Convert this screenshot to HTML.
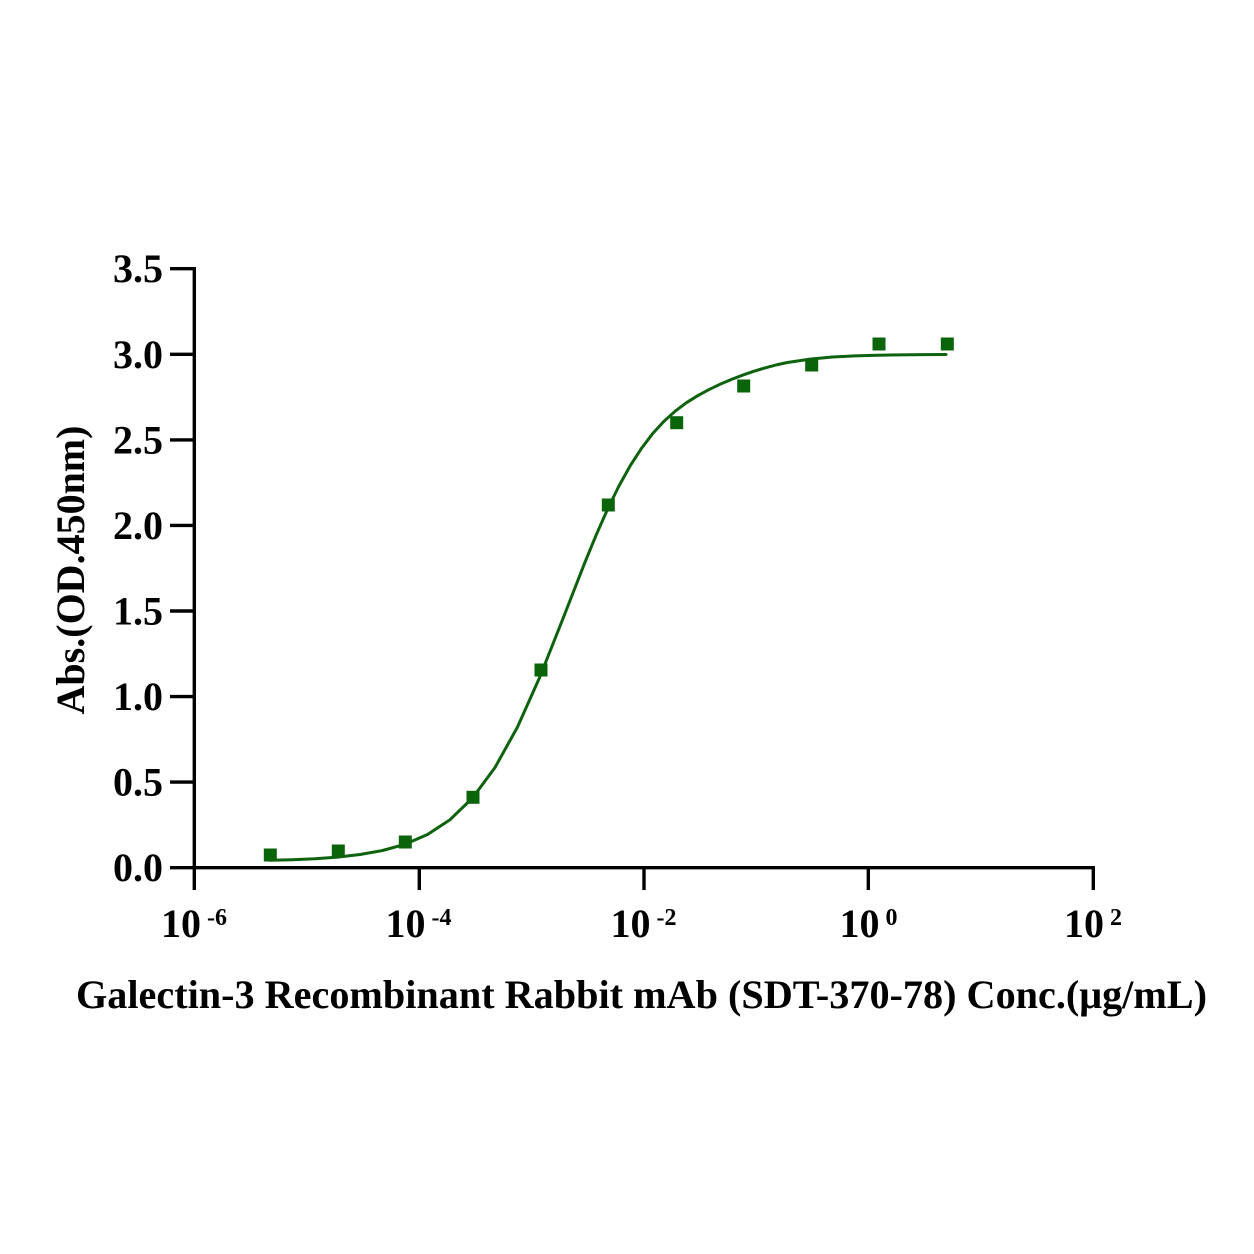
<!DOCTYPE html>
<html>
<head>
<meta charset="utf-8">
<style>
html,body{margin:0;padding:0;background:#fff;}
svg{display:block;}
text{font-family:"Liberation Serif","Times New Roman",serif;font-weight:bold;fill:#000;}
</style>
</head>
<body>
<svg width="1254" height="1254" viewBox="0 0 1254 1254" xmlns="http://www.w3.org/2000/svg">
<rect width="1254" height="1254" fill="#fff"/>

<!-- axes -->
<g stroke="#000" stroke-width="3.4" fill="none" stroke-linecap="butt">
  <line x1="194.3" y1="267" x2="194.3" y2="869.4"/>
  <line x1="170" y1="867.7" x2="1094.9" y2="867.7"/>
  <!-- y ticks -->
  <line x1="170" y1="782.1" x2="194" y2="782.1"/>
  <line x1="170" y1="696.6" x2="194" y2="696.6"/>
  <line x1="170" y1="611.0" x2="194" y2="611.0"/>
  <line x1="170" y1="525.4" x2="194" y2="525.4"/>
  <line x1="170" y1="439.9" x2="194" y2="439.9"/>
  <line x1="170" y1="354.3" x2="194" y2="354.3"/>
  <line x1="170" y1="268.7" x2="196" y2="268.7"/>
  <!-- x ticks -->
  <line x1="194.3" y1="866" x2="194.3" y2="890"/>
  <line x1="419.3" y1="866" x2="419.3" y2="890"/>
  <line x1="644.0" y1="866" x2="644.0" y2="890"/>
  <line x1="868.3" y1="866" x2="868.3" y2="890"/>
  <line x1="1093.3" y1="866" x2="1093.3" y2="890"/>
</g>

<!-- y tick labels -->
<g font-size="40" text-anchor="end">
  <text x="163" y="881.2">0.0</text>
  <text x="163" y="795.6">0.5</text>
  <text x="163" y="710.1">1.0</text>
  <text x="163" y="624.5">1.5</text>
  <text x="163" y="538.9">2.0</text>
  <text x="163" y="453.4">2.5</text>
  <text x="163" y="367.8">3.0</text>
  <text x="163" y="282.2">3.5</text>
</g>

<!-- x tick labels -->
<g font-size="40" text-anchor="middle">
  <text x="194" y="937">10<tspan font-size="24" dy="-12"> -6</tspan></text>
  <text x="418.5" y="937">10<tspan font-size="24" dy="-12"> -4</tspan></text>
  <text x="643.5" y="937">10<tspan font-size="24" dy="-12"> -2</tspan></text>
  <text x="868.5" y="937">10<tspan font-size="24" dy="-12"> 0</tspan></text>
  <text x="1093" y="937">10<tspan font-size="24" dy="-12"> 2</tspan></text>
</g>

<!-- axis titles -->
<text x="76" y="1008" font-size="40" textLength="1131" lengthAdjust="spacingAndGlyphs">Galectin-3 Recombinant Rabbit mAb (SDT-370-78) Conc.(μg/mL)</text>
<text transform="translate(84,570) rotate(-90)" font-size="40" text-anchor="middle">Abs.(OD.450nm)</text>

<!-- fitted curve -->
<polyline fill="none" stroke="#0e620e" stroke-width="3" stroke-linejoin="round" stroke-linecap="round"
 points="270,860.3 292.5,859.7 315,858.7 337.5,857.1 360,854.5 382.5,850.5 405,844.3 427.5,834.5 450,819.7 472.5,798 495,767.5 517.5,727 540,676.6 562.5,619.8 585,562.2 596.25,534.8 607.5,509.4 618.75,486.4 630,466.1 641.25,448.7 652.5,433.8 663.75,421.5 675,411.3 686.25,402.8 697.5,395.8 708.75,389.7 720,384.3 731.25,379.5 742.5,375.2 753.75,371.3 765,367.9 776.25,364.9 787.5,362.5 810,359.1 832.5,357.0 855,355.9 877.5,355.2 900,354.9 923,354.6 946,354.5"/>

<!-- data markers -->
<g fill="#0a640a">
  <rect x="263.8" y="848.5" width="13" height="13"/>
  <rect x="331.8" y="844.5" width="13" height="13"/>
  <rect x="398.8" y="835.5" width="13" height="13"/>
  <rect x="466.5" y="790.8" width="13" height="13"/>
  <rect x="534.5" y="663.5" width="13" height="13"/>
  <rect x="601.8" y="498.5" width="13" height="13"/>
  <rect x="670.2" y="416.2" width="13" height="13"/>
  <rect x="737.2" y="379.5" width="13" height="13"/>
  <rect x="805.2" y="358.5" width="13" height="13"/>
  <rect x="872.5" y="337.5" width="13" height="13"/>
  <rect x="940.8" y="337.5" width="13" height="13"/>
</g>
</svg>
</body>
</html>
